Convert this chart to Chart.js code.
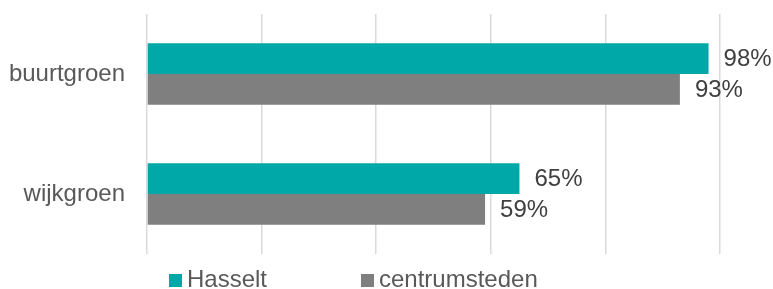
<!DOCTYPE html>
<html>
<head>
<meta charset="utf-8">
<script src="https://cdn.jsdelivr.net/npm/chart.js@4.4.1/dist/chart.umd.min.js"></script>
<style>
    html, body { margin: 0; padding: 0; background: #fff; }
    #wrap { position: relative; width: 773px; height: 289px; }
</style>
</head>
<body>
<div id="wrap"><canvas id="greenChart" width="773" height="289"></canvas></div>
<script>
/* ======================================
        Data
====================================== */

const categories = ["buurtgroen", "wijkgroen"];
const seriesNames = ["Hasselt", "centrumsteden"];
const hasseltValues = [98, 65];
const centrumstedenValues = [93, 59];
const axisTicks = [0, 20, 40, 60, 80, 100];

const FONT = "'Liberation Sans', Arial, sans-serif";

/* ======================================
        Value labels next to the bars
====================================== */

const valueLabels = {
    id: "valueLabels",
    afterDatasetsDraw(chart) {
        const ctx = chart.ctx;
        ctx.save();
        ctx.font = "24px " + FONT;
        ctx.fillStyle = "#404040";
        ctx.textAlign = "left";
        ctx.textBaseline = "middle";
        chart.data.datasets.forEach((ds, i) => {
            chart.getDatasetMeta(i).data.forEach((bar, j) => {
                ctx.fillText(ds.data[j] + "%", bar.x + 15, bar.y + 1);
            });
        });
        ctx.restore();
    }
};

/* ======================================
        Legend row (bottom)
====================================== */

const legendRow = {
    id: "legendRow",
    afterDraw(chart) {
        const ctx = chart.ctx;
        const starts = [169, 361];
        ctx.save();
        ctx.font = "24px " + FONT;
        ctx.textBaseline = "alphabetic";
        chart.data.datasets.forEach((ds, i) => {
            const x = starts[i];
            ctx.fillStyle = ds.backgroundColor;
            ctx.fillRect(x, 274, 13, 13);
            ctx.fillStyle = "#595959";
            ctx.fillText(ds.label, x + 18, 287);
        });
        ctx.restore();
    }
};

/* ======================================
        Chart
====================================== */

new Chart(document.getElementById("greenChart"), {

    type: "bar",

    data: {
        labels: categories,
        datasets: [
            {
                label: seriesNames[0],
                data: hasseltValues,
                backgroundColor: "#00A8A8",
                categoryPercentage: 0.513,
                barPercentage: 1
            },
            {
                label: seriesNames[1],
                data: centrumstedenValues,
                backgroundColor: "#7F7F7F",
                categoryPercentage: 0.513,
                barPercentage: 1
            }
        ]
    },

    options: {
        indexAxis: "y",
        responsive: false,
        animation: false,
        layout: {
            padding: { left: 10, right: 53, top: 14, bottom: 35 }
        },
        plugins: {
            legend: { display: false },
            tooltip: { enabled: false }
        },
        scales: {
            x: {
                min: axisTicks[0],
                max: axisTicks[axisTicks.length - 1],
                afterBuildTicks: scale => {
                    scale.ticks = axisTicks.map(v => ({ value: v }));
                },
                ticks: { display: false },
                border: { display: false },
                grid: {
                    color: "#D9D9D9",
                    lineWidth: 1.5,
                    drawTicks: false
                }
            },
            y: {
                border: { display: false },
                grid: { display: false, drawTicks: false },
                ticks: {
                    color: "#595959",
                    padding: 22,
                    font: { family: FONT, size: 24 }
                },
                afterFit: scale => {
                    scale.width = 137;
                    scale.paddingTop = 0;
                    scale.paddingBottom = 0;
                }
            }
        }
    },

    plugins: [valueLabels, legendRow]

});
</script>
</body>
</html>
